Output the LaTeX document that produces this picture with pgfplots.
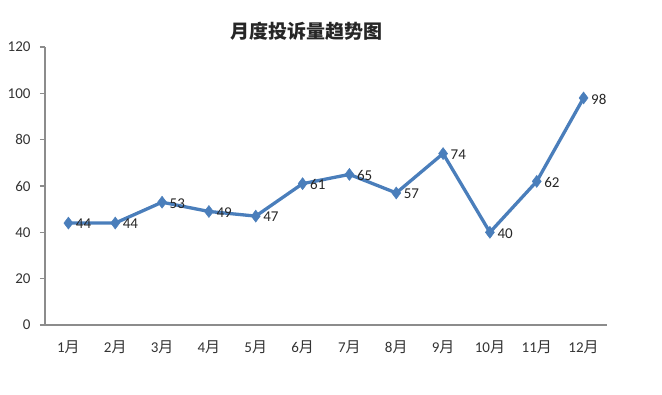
\documentclass[border=0pt]{standalone}
\usepackage{pgfplots}
\pgfplotsset{compat=1.18}
\usepackage{fontspec}
\setmainfont{Carlito}
\newfontfamily\cjk{Noto Sans CJK SC}
\definecolor{line}{HTML}{4A7EBB}
\definecolor{axisgray}{HTML}{8C8C8C}
\begin{document}
\begin{tikzpicture}
\useasboundingbox (0pt,0pt) rectangle (662pt,395pt);
\node[font=\cjk\bfseries\fontsize{19}{22}\selectfont, text=black!85] at (306pt,364pt) {月度投诉量趋势图};
\begin{axis}[
  at={(45pt,70pt)}, anchor=south west,
  scale only axis, width=562pt, height=278pt,
  xmin=0.5, xmax=12.5, ymin=0, ymax=120,
  axis x line=bottom, axis y line=left,
  axis line style={-, axisgray, line width=1.3pt},
  xtick={1,...,12},
  xticklabels={1{\cjk 月},2{\cjk 月},3{\cjk 月},4{\cjk 月},5{\cjk 月},6{\cjk 月},7{\cjk 月},8{\cjk 月},9{\cjk 月},10{\cjk 月},11{\cjk 月},12{\cjk 月}},
  x tick style={draw=none},
  extra x ticks={0.5,1.5,...,12.5},
  extra x tick labels={},
  extra x tick style={major tick length=6pt, tick align=outside, tick style={draw=axisgray, line width=1.3pt}},
  ytick={0,20,...,120},
  y tick style={draw=axisgray, line width=1.3pt},
  major tick length=5pt, tick align=outside,
  tick label style={font=\fontsize{15}{17}\selectfont, text=black!80},
  xticklabel style={yshift=-7pt},
  yticklabel style={xshift=-6pt},
  /pgf/number format/assume math mode=true,
  clip=false,
]
\addplot[color=line, line width=3.3pt, mark=diamond*, mark size=6pt,
  mark options={fill=line, draw=line, line width=0.5pt},
  nodes near coords, every node near coord/.append style={anchor=west, xshift=4pt, yshift=-1pt, font=\fontsize{15}{17}\selectfont, text=black!85}]
  coordinates {(1,44)(2,44)(3,53)(4,49)(5,47)(6,61)(7,65)(8,57)(9,74)(10,40)(11,62)(12,98)};
\end{axis}
\end{tikzpicture}
\end{document}
